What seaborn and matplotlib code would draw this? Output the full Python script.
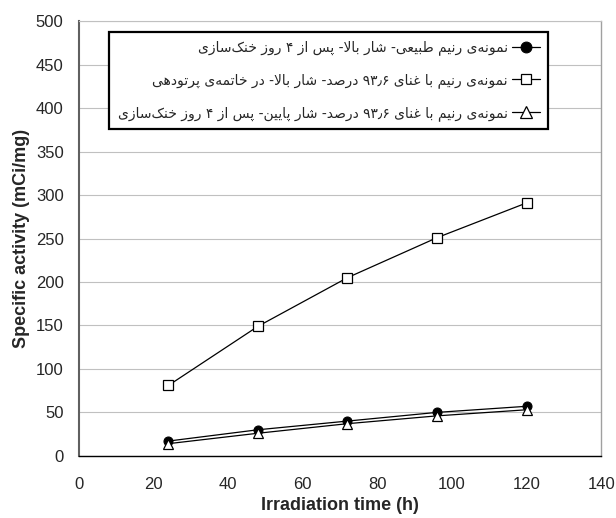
import re
import pandas as pd
import numpy as np
import matplotlib
matplotlib.use("Agg")
import matplotlib.pyplot as plt
import seaborn as sns

# -------------------
# Data
hours = [24, 48, 72, 96, 120]
natural_high_cooled = [17, 30, 40, 50, 57]
enriched_high_eob = [81, 149, 205, 251, 291]
enriched_low_cooled = [14, 26, 37, 46, 53]

labels = [
    "نمونه\u200cی رنیم طبیعی- شار بالا- پس از ۴ روز خنک\u200cسازی",
    "نمونه\u200cی رنیم با غنای ۹۳٫۶ درصد- شار بالا- در خاتمه\u200cی پرتودهی",
    "نمونه\u200cی رنیم با غنای ۹۳٫۶ درصد- شار پایین- پس از ۴ روز خنک\u200cسازی",
]

x_ticks = list(range(0, 141, 20))
y_ticks = list(range(0, 501, 50))

# -------------------
# matplotlib 3.10 has no Arabic shaping, so pick contextual forms by hand
FORMS = {
    'ا': ('\uFE8D', '\uFE8E', None, None),
    'ب': ('\uFE8F', '\uFE90', '\uFE91', '\uFE92'),
    'پ': ('\uFB56', '\uFB57', '\uFB58', '\uFB59'),
    'ت': ('\uFE95', '\uFE96', '\uFE97', '\uFE98'),
    'خ': ('\uFEA5', '\uFEA6', '\uFEA7', '\uFEA8'),
    'د': ('\uFEA9', '\uFEAA', None, None),
    'ر': ('\uFEAD', '\uFEAE', None, None),
    'ز': ('\uFEAF', '\uFEB0', None, None),
    'س': ('\uFEB1', '\uFEB2', '\uFEB3', '\uFEB4'),
    'ش': ('\uFEB5', '\uFEB6', '\uFEB7', '\uFEB8'),
    'ص': ('\uFEB9', '\uFEBA', '\uFEBB', '\uFEBC'),
    'ط': ('\uFEC1', '\uFEC2', '\uFEC3', '\uFEC4'),
    'ع': ('\uFEC9', '\uFECA', '\uFECB', '\uFECC'),
    'غ': ('\uFECD', '\uFECE', '\uFECF', '\uFED0'),
    'ک': ('\uFB8E', '\uFB8F', '\uFB90', '\uFB91'),
    'ل': ('\uFEDD', '\uFEDE', '\uFEDF', '\uFEE0'),
    'م': ('\uFEE1', '\uFEE2', '\uFEE3', '\uFEE4'),
    'ن': ('\uFEE5', '\uFEE6', '\uFEE7', '\uFEE8'),
    'ه': ('\uFEE9', '\uFEEA', '\uFEEB', '\uFEEC'),
    'و': ('\uFEED', '\uFEEE', None, None),
    'ی': ('\uFBFC', '\uFBFD', '\uFBFE', '\uFBFF'),
    'لا': ('\uFEFB', '\uFEFC', None, None),
}
DIGITS = "۰۱۲۳۴۵۶۷۸۹٫"


def shape(text):
    units = []
    i = 0
    while i < len(text):
        if text[i] == 'ل' and i + 1 < len(text) and text[i + 1] == 'ا':
            units.append('لا')
            i += 2
        else:
            units.append(text[i])
            i += 1
    out = []
    for k, u in enumerate(units):
        if u == '\u200c':
            continue
        if u not in FORMS:
            out.append(u)
            continue
        f = FORMS[u]
        prev_u = units[k - 1] if k > 0 else None
        next_u = units[k + 1] if k + 1 < len(units) else None
        join_prev = prev_u in FORMS and FORMS[prev_u][2] is not None
        join_next = f[2] is not None and next_u in FORMS
        if join_prev and join_next:
            out.append(f[3])
        elif join_prev:
            out.append(f[1])
        elif join_next:
            out.append(f[2])
        else:
            out.append(f[0])
    s = ''.join(out)
    # right-to-left visual order, numbers stay left-to-right
    runs = re.findall(r'[%s]+|[^%s]+' % (DIGITS, DIGITS), s)
    return ''.join(r if r[0] in DIGITS else r[::-1] for r in reversed(runs))


# -------------------
# Plot
sns.set_style("white")
plt.rcParams['font.family'] = ['Liberation Sans', 'DejaVu Sans']

fig, ax = plt.subplots(figsize=(6.16, 5.18), dpi=100)
fig.subplots_adjust(left=0.128, right=0.976, bottom=0.120, top=0.959)

ax.yaxis.grid(True, color="#c0c0c0", linewidth=0.8)
ax.set_axisbelow(True)

sns.lineplot(x=hours, y=natural_high_cooled, ax=ax, color="black", linewidth=0.9,
             marker="o", markersize=6.5, markerfacecolor="black", markeredgecolor="black",
             label=shape(labels[0]))
sns.lineplot(x=hours, y=enriched_high_eob, ax=ax, color="black", linewidth=0.9,
             marker="s", markersize=6.5, markerfacecolor="white", markeredgecolor="black",
             markeredgewidth=0.9, label=shape(labels[1]))
sns.lineplot(x=hours, y=enriched_low_cooled, ax=ax, color="black", linewidth=0.9,
             marker="^", markersize=7, markerfacecolor="white", markeredgecolor="black",
             markeredgewidth=0.9, label=shape(labels[2]))

ax.set_xlim(0, 140)
ax.set_ylim(0, 500)
ax.set_xticks(x_ticks)
ax.set_yticks(y_ticks)
ax.tick_params(axis="both", labelsize=12, length=5, width=1, direction="out",
               color="#404040", pad=6)
ax.tick_params(axis="x", pad=10)

ax.spines["left"].set_color("#606060")
ax.spines["left"].set_linewidth(1.5)
ax.spines["bottom"].set_color("black")
ax.spines["bottom"].set_linewidth(1.0)
ax.spines["right"].set_color("#a0a0a0")
ax.spines["right"].set_linewidth(1.0)
ax.spines["top"].set_color("#c0c0c0")
ax.spines["top"].set_linewidth(0.8)

ax.set_xlabel("Irradiation time (h)", fontsize=13, fontweight="bold", labelpad=4)
ax.set_ylabel("Specific activity (mCi/mg)", fontsize=13, fontweight="bold", labelpad=4)

leg = ax.legend(loc="upper right", bbox_to_anchor=(0.898, 0.975), borderaxespad=0,
                markerfirst=False, fancybox=False, framealpha=1, edgecolor="black",
                prop={"family": ["DejaVu Sans"], "size": 10}, labelspacing=1.3,
                handlelength=2.0, handletextpad=0.3, borderpad=0.6, markerscale=1.2)
leg.get_frame().set_linewidth(1.6)

fig.savefig("out.png", dpi=100)
